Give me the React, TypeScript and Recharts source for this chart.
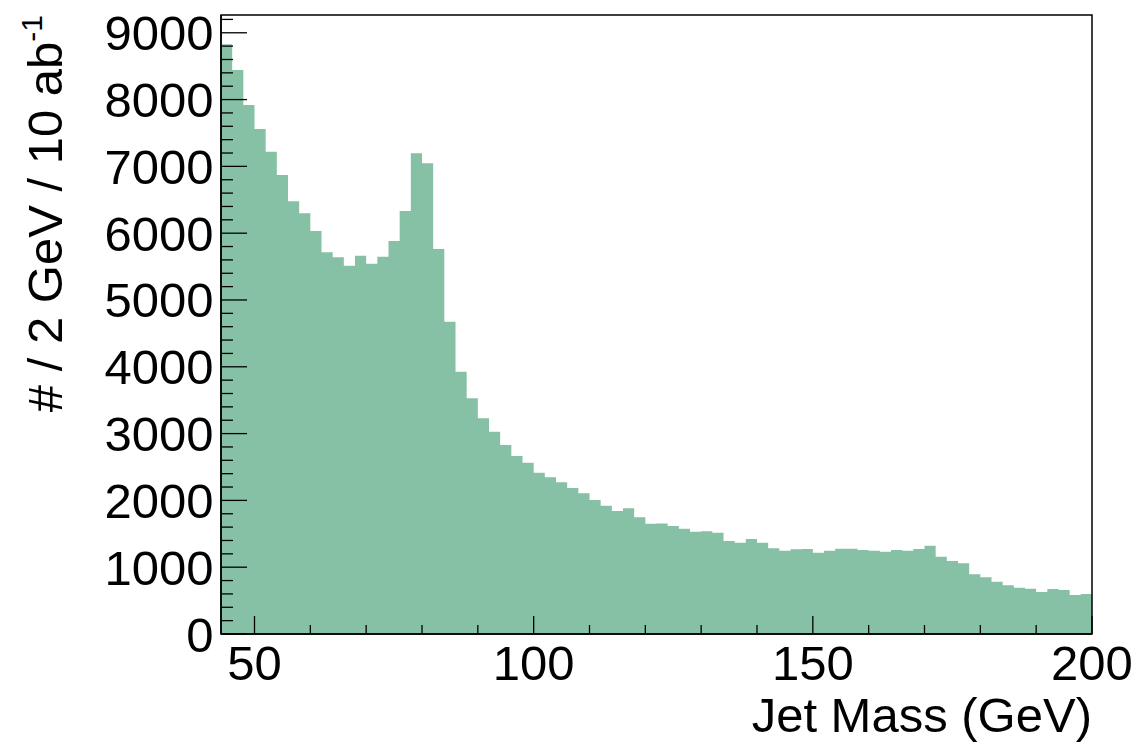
import { AreaChart, Area, XAxis, YAxis, ReferenceArea } from "recharts";

// 2 GeV bins starting at 44 GeV
const massStart = 44;
const binWidth = 2;

// entries per bin
const counts = [
  8828, 8443, 7919, 7560, 7220, 6871, 6478, 6298, 6033, 5714,
  5639, 5513, 5663, 5543, 5648, 5883, 6332, 7196, 7046, 5763,
  4675, 3927, 3528, 3229, 3029, 2829, 2665, 2565, 2415, 2346,
  2271, 2186, 2106, 2006, 1921, 1841, 1882, 1747, 1651, 1655,
  1617, 1577, 1532, 1537, 1517, 1392, 1367, 1422, 1367, 1283,
  1247, 1268, 1273, 1217, 1247, 1277, 1277, 1257, 1247, 1232,
  1257, 1247, 1272, 1322, 1157, 1093, 1058, 893, 848, 783,
  728, 693, 678, 629, 674, 659, 584, 599,
];

const xMajor = [50, 100, 150, 200];
const xMinor = [60, 70, 80, 90, 110, 120, 130, 140, 160, 170, 180, 190];
const yMajor = [0, 1000, 2000, 3000, 4000, 5000, 6000, 7000, 8000, 9000];
const yTop = 9266;

const yTicks: number[] = [];
for (let v = 0; v <= 9200; v += 200) yTicks.push(v);

const histData = counts.map((c, i) => ({ mass: massStart + i * binWidth, count: c }));
// close the last bin for the step outline
histData.push({ mass: massStart + counts.length * binWidth, count: counts[counts.length - 1] });

const font = "'Liberation Sans', Arial, Helvetica, sans-serif";
const fill = "#86c1a5";

function XTick(props: any) {
  const { x, y, payload } = props;
  const major = xMajor.includes(payload.value);
  return (
    <g>
      <line x1={x} x2={x} y1={y} y2={y - (major ? 18 : 9)} stroke="#000" strokeWidth={1.3} />
      {major && (
        <text x={x} y={y + 46} textAnchor="middle" fontSize={49} fontFamily={font} fill="#000">
          {payload.value}
        </text>
      )}
    </g>
  );
}

function YTick(props: any) {
  const { x, y, payload } = props;
  const major = yMajor.includes(payload.value);
  return (
    <g>
      <line x1={x} x2={x + (major ? 26 : 12)} y1={y} y2={y} stroke="#000" strokeWidth={1.3} />
      {major && (
        <text x={x - 7.5} y={y + 17.5} textAnchor="end" fontSize={49} fontFamily={font} fill="#000">
          {payload.value}
        </text>
      )}
    </g>
  );
}

function XTitle(props: any) {
  const vb = props.viewBox || { x: 221, y: 634, width: 871, height: 108 };
  return (
    <text x={vb.x + vb.width} y={vb.y + 98} textAnchor="end" fontSize={49} fontFamily={font} fill="#000">
      Jet Mass (GeV)
    </text>
  );
}

function YTitle(props: any) {
  const vb = props.viewBox || { x: 0, y: 15, width: 221, height: 619 };
  const x = vb.x + 62;
  const y = vb.y;
  return (
    <text
      x={x}
      y={y}
      transform={`rotate(-90, ${x}, ${y})`}
      textAnchor="end"
      fontSize={49}
      fontFamily={font}
      fill="#000"
    >
      # / 2 GeV / 10 ab
      <tspan fontSize={30} dy={-20}>-1</tspan>
    </text>
  );
}

export default function App() {
  return (
    <div style={{ position: "absolute", left: 0, top: 0, background: "#fff" }}>
      <AreaChart
        width={1137}
        height={742}
        data={histData}
        margin={{ top: 15, right: 45, bottom: 0, left: 0 }}
        style={{ fontFamily: font }}
      >
        <XAxis
          dataKey="mass"
          type="number"
          domain={[44, 200]}
          allowDataOverflow
          ticks={[...xMajor, ...xMinor].sort((a, b) => a - b)}
          interval={0}
          height={108}
          tickSize={0}
          tickMargin={0}
          tickLine={false}
          tick={<XTick />}
          axisLine={{ stroke: "#000", strokeWidth: 1.5 }}
          label={{ content: XTitle }}
        />
        <YAxis
          type="number"
          domain={[0, yTop]}
          allowDataOverflow
          ticks={yTicks}
          interval={0}
          width={221}
          tickSize={0}
          tickMargin={0}
          tickLine={false}
          tick={<YTick />}
          axisLine={{ stroke: "#000", strokeWidth: 1.5 }}
          label={{ content: YTitle }}
        />
        <Area
          type="stepAfter"
          dataKey="count"
          stroke="none"
          fill={fill}
          fillOpacity={1}
          isAnimationActive={false}
        />
        <ReferenceArea
          x1={44}
          x2={200}
          y1={0}
          y2={yTop}
          fill="none"
          fillOpacity={0}
          stroke="#000"
          strokeWidth={1.5}
          ifOverflow="visible"
        />
      </AreaChart>
    </div>
  );
}
